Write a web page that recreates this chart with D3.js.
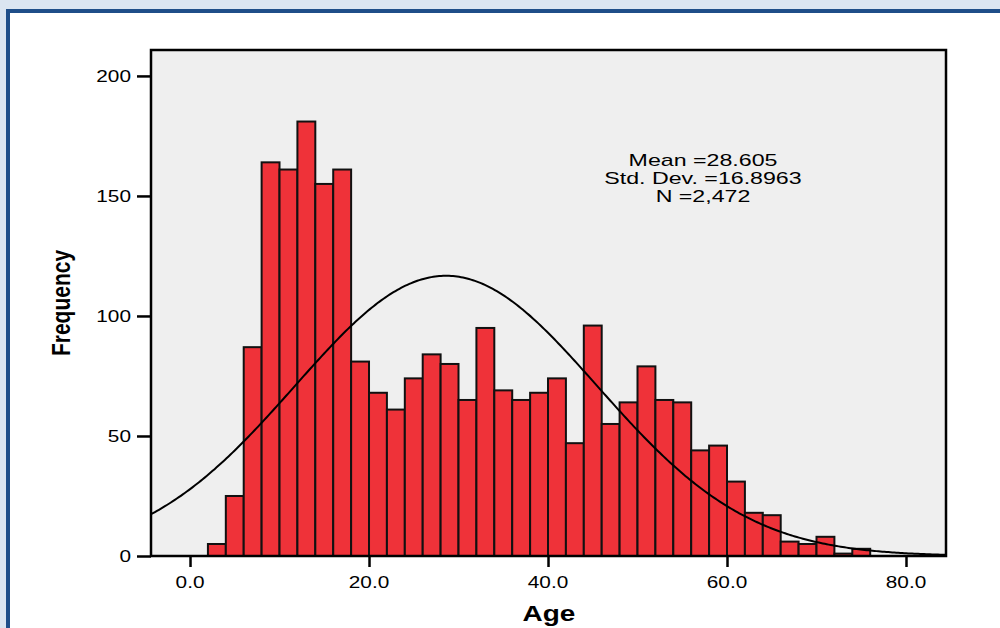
<!DOCTYPE html>
<html>
<head>
<meta charset="utf-8">
<script src="https://cdn.jsdelivr.net/npm/d3@7"></script>
<style>
  html, body { margin: 0; padding: 0; background: #dbe5f1; }
  svg { display: block; }
  text { font-family: "Liberation Sans", Arial, Helvetica, sans-serif; fill: #000; }
</style>
</head>
<body>
<svg id="chart" width="1000" height="628"></svg>
<script>
// ---- data ----
const binStarts = [2,4,6,8,10,12,14,16,18,20,22,24,26,28,30,32,34,36,38,40,42,44,46,48,50,52,54,56,58,60,62,64,66,68,70,72,74];
const counts    = [5,25,87,164,161,181,155,161,81,68,61,74,84,80,65,95,69,65,68,74,47,96,55,64,79,65,64,44,46,31,18,17,6,5,8,1,3];
const binWidth = 2;
const xTicks = [0, 20, 40, 60, 80];
const xTickLabels = ["0.0", "20.0", "40.0", "60.0", "80.0"];
const yTicks = [0, 50, 100, 150, 200];
const yTickLabels = ["0", "50", "100", "150", "200"];
const statMean = 28.605;
const statSD = 16.8963;
const statN = 2472;
const statLines = ["Mean =28.605", "Std. Dev. =16.8963", "N =2,472"];
const xTitle = "Age";
const yTitle = "Frequency";

// ---- layout ----
const svg = d3.select("#chart");
const L = 151, R = 946, T = 50, B = 556;

svg.append("rect").attr("x", 0).attr("y", 0).attr("width", 1000).attr("height", 628).attr("fill", "#dbe5f1");
svg.append("rect").attr("x", 8).attr("y", 11).attr("width", 1000).attr("height", 700)
  .attr("fill", "#ffffff").attr("stroke", "#1f4e89").attr("stroke-width", 4);

const x = d3.scaleLinear().domain([-4.36, 84.47]).range([L, R]);
const y = d3.scaleLinear().domain([0, 210.8]).range([B, T]);

// plot background
svg.append("rect").attr("x", L).attr("y", T).attr("width", R - L).attr("height", B - T)
  .attr("fill", "#efefef");

svg.append("defs").append("clipPath").attr("id", "clip")
  .append("rect").attr("x", L).attr("y", T).attr("width", R - L).attr("height", B - T);

// bars
svg.append("g").selectAll("rect").data(binStarts.map((s, i) => ({s, c: counts[i]})))
  .join("rect")
  .attr("x", d => x(d.s))
  .attr("y", d => y(d.c))
  .attr("width", d => x(d.s + binWidth) - x(d.s))
  .attr("height", d => y(0) - y(d.c))
  .attr("fill", "#ef3239")
  .attr("stroke", "#111")
  .attr("stroke-width", 2);

// normal curve from the stated statistics
const pdf = v => Math.exp(-0.5 * Math.pow((v - statMean) / statSD, 2)) / (statSD * Math.sqrt(2 * Math.PI));
const xs = d3.range(0, 401).map(i => x.domain()[0] + (x.domain()[1] - x.domain()[0]) * i / 400);
svg.append("path")
  .datum(xs)
  .attr("clip-path", "url(#clip)")
  .attr("fill", "none")
  .attr("stroke", "#000")
  .attr("stroke-width", 2)
  .attr("d", d3.line().x(v => x(v)).y(v => y(statN * binWidth * pdf(v))).curve(d3.curveLinear));

// frame
svg.append("rect").attr("x", L).attr("y", T).attr("width", R - L).attr("height", B - T)
  .attr("fill", "none").attr("stroke", "#000").attr("stroke-width", 2.5);

// x axis ticks
const xAxis = svg.append("g").attr("transform", `translate(0,${B})`)
  .call(d3.axisBottom(x).tickValues(xTicks).tickSize(11).tickSizeOuter(0).tickFormat(""));
xAxis.select(".domain").remove();
xAxis.selectAll(".tick line").attr("stroke", "#000").attr("stroke-width", 2.5);
svg.append("g").selectAll("g").data(xTicks).join("g")
  .attr("transform", d => `translate(${x(d)},588) scale(1.3,1)`)
  .append("text")
  .attr("text-anchor", "middle")
  .attr("font-size", 16)
  .text((d, i) => xTickLabels[i]);

// y axis ticks
const yAxis = svg.append("g").attr("transform", `translate(${L},0)`)
  .call(d3.axisLeft(y).tickValues(yTicks).tickSize(14).tickSizeOuter(0).tickFormat(""));
yAxis.select(".domain").remove();
yAxis.selectAll(".tick line").attr("stroke", "#000").attr("stroke-width", 2.5);
svg.append("g").selectAll("g").data(yTicks).join("g")
  .attr("transform", d => `translate(131,${y(d) + 6}) scale(1.3,1)`)
  .append("text")
  .attr("text-anchor", "end")
  .attr("font-size", 16)
  .text((d, i) => yTickLabels[i]);

// stats annotation
svg.append("g").selectAll("g").data(statLines).join("g")
  .attr("transform", (d, i) => `translate(703,${166 + i * 18}) scale(1.38,1)`)
  .append("text")
  .attr("text-anchor", "middle")
  .attr("font-size", 16.8)
  .text(d => d);

// axis titles
svg.append("g").attr("transform", "translate(549,621) scale(1.3,1)")
  .append("text").attr("text-anchor", "middle").attr("font-size", 21.5).attr("font-weight", "bold")
  .text(xTitle);
svg.append("g").attr("transform", "translate(70,303) scale(1.2,1) rotate(-90)")
  .append("text").attr("text-anchor", "middle").attr("font-size", 21).attr("font-weight", "bold")
  .text(yTitle);
</script>
</body>
</html>
